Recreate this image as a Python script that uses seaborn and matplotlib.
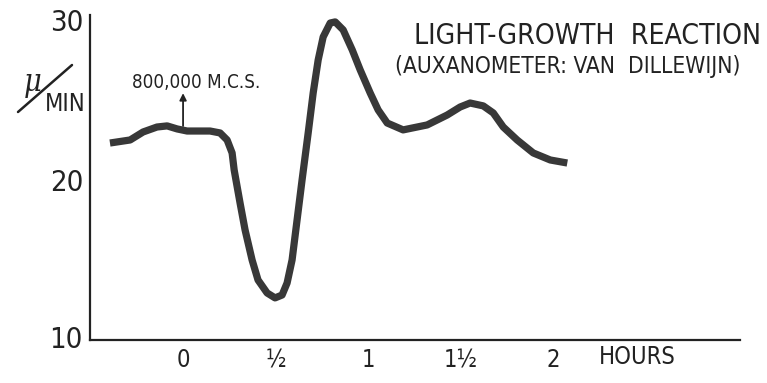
import matplotlib
matplotlib.use("Agg")
import matplotlib.pyplot as plt
import seaborn as sns
import pandas as pd
from matplotlib.lines import Line2D

hours = [-0.395, -0.286, -0.216, -0.141, -0.086, -0.032, 0.022, 0.146, 0.200, 0.238,
         0.265, 0.276, 0.308, 0.335, 0.373, 0.405, 0.454, 0.497, 0.535, 0.562,
         0.589, 0.616, 0.643, 0.676, 0.703, 0.730, 0.757, 0.795, 0.822, 0.865,
         0.914, 0.957, 1.011, 1.054, 1.103, 1.189, 1.319, 1.427, 1.497, 1.551,
         1.622, 1.676, 1.730, 1.805, 1.892, 1.984, 2.076]
growth = [22.31, 22.50, 23.00, 23.31, 23.38, 23.19, 23.06, 23.06, 22.94, 22.50,
          21.69, 20.63, 18.56, 16.88, 15.00, 13.75, 12.94, 12.63, 12.81, 13.56,
          15.00, 17.50, 20.00, 22.94, 25.44, 27.50, 28.94, 29.81, 29.88, 29.38,
          28.13, 26.88, 25.44, 24.38, 23.56, 23.13, 23.44, 24.06, 24.56, 24.81,
          24.63, 24.19, 23.31, 22.50, 21.69, 21.25, 21.06]

x_ticks = [0, 0.5, 1, 1.5, 2]
x_labels = ["0", "½", "1", "1½", "2"]
y_ticks = [20, 30]
y_labels = ["20", "30"]

df = pd.DataFrame({"hours": hours, "growth": growth})

sns.set_style("white")
plt.rcParams["font.family"] = ["DejaVu Sans"]
plt.rcParams["font.stretch"] = "condensed"

INK = "#222222"

fig = plt.figure(figsize=(7.67, 3.83), dpi=100)
ax = fig.add_axes([0.1173, 0.1123, 0.8477, 0.8485])

sns.lineplot(data=df, x="hours", y="growth", sort=False, estimator=None,
             color="#383838", linewidth=5.2, solid_capstyle="butt",
             solid_joinstyle="round", ax=ax)

ax.set_xlim(-0.503, 3.01)
ax.set_ylim(10, 30.31)
ax.set_xlabel("")
ax.set_ylabel("")

for s in ["top", "right"]:
    ax.spines[s].set_visible(False)
for s in ["left", "bottom"]:
    ax.spines[s].set_color(INK)
    ax.spines[s].set_linewidth(1.6)

ax.set_xticks(x_ticks)
ax.set_xticklabels(x_labels, fontsize=17, color=INK)
ax.set_yticks(y_ticks)
ax.set_yticklabels(y_labels, fontsize=21, color=INK)
ax.tick_params(axis="x", direction="in", length=7, width=1.4, color=INK, pad=6)
ax.tick_params(axis="y", direction="in", length=8, width=1.4, color=INK, pad=5)

# bottom "10" label without tick
fig.text(82 / 767, 1 - 340 / 383, "10", ha="right", va="center", fontsize=21, color=INK)
# HOURS label
fig.text(599 / 767, 1 - 357 / 383, "HOURS", ha="left", va="center",
         fontsize=17, color=INK)

# y-axis unit label mu / MIN
fig.text(33 / 767, 1 - 82 / 383, "μ", ha="center", va="center", fontsize=22,
         style="italic", color=INK, family=["DejaVu Serif"])
fig.add_artist(Line2D([18 / 767, 72 / 767], [1 - 112 / 383, 1 - 65 / 383],
                      transform=fig.transFigure, color=INK, linewidth=1.8))
fig.text(65 / 767, 1 - 104 / 383, "MIN", ha="center", va="center", fontsize=17,
         color=INK)

# stimulus annotation
ax.annotate("", xy=(0, 25.6), xytext=(0, 23.2),
            arrowprops=dict(arrowstyle="-|>", color=INK, lw=1.3,
                            mutation_scale=10))
ax.text(0.07, 25.75, "800,000 M.C.S.", ha="center", va="baseline", fontsize=13.5,
        color=INK)

# titles
fig.text(587 / 767, 1 - 36 / 383, "LIGHT-GROWTH  REACTION", ha="center",
         va="center", fontsize=20.3, color=INK)
fig.text(568 / 767, 1 - 66 / 383, "(AUXANOMETER: VAN  DILLEWIJN)", ha="center",
         va="center", fontsize=16.3, color=INK)

fig.savefig("out.png", dpi=100)
